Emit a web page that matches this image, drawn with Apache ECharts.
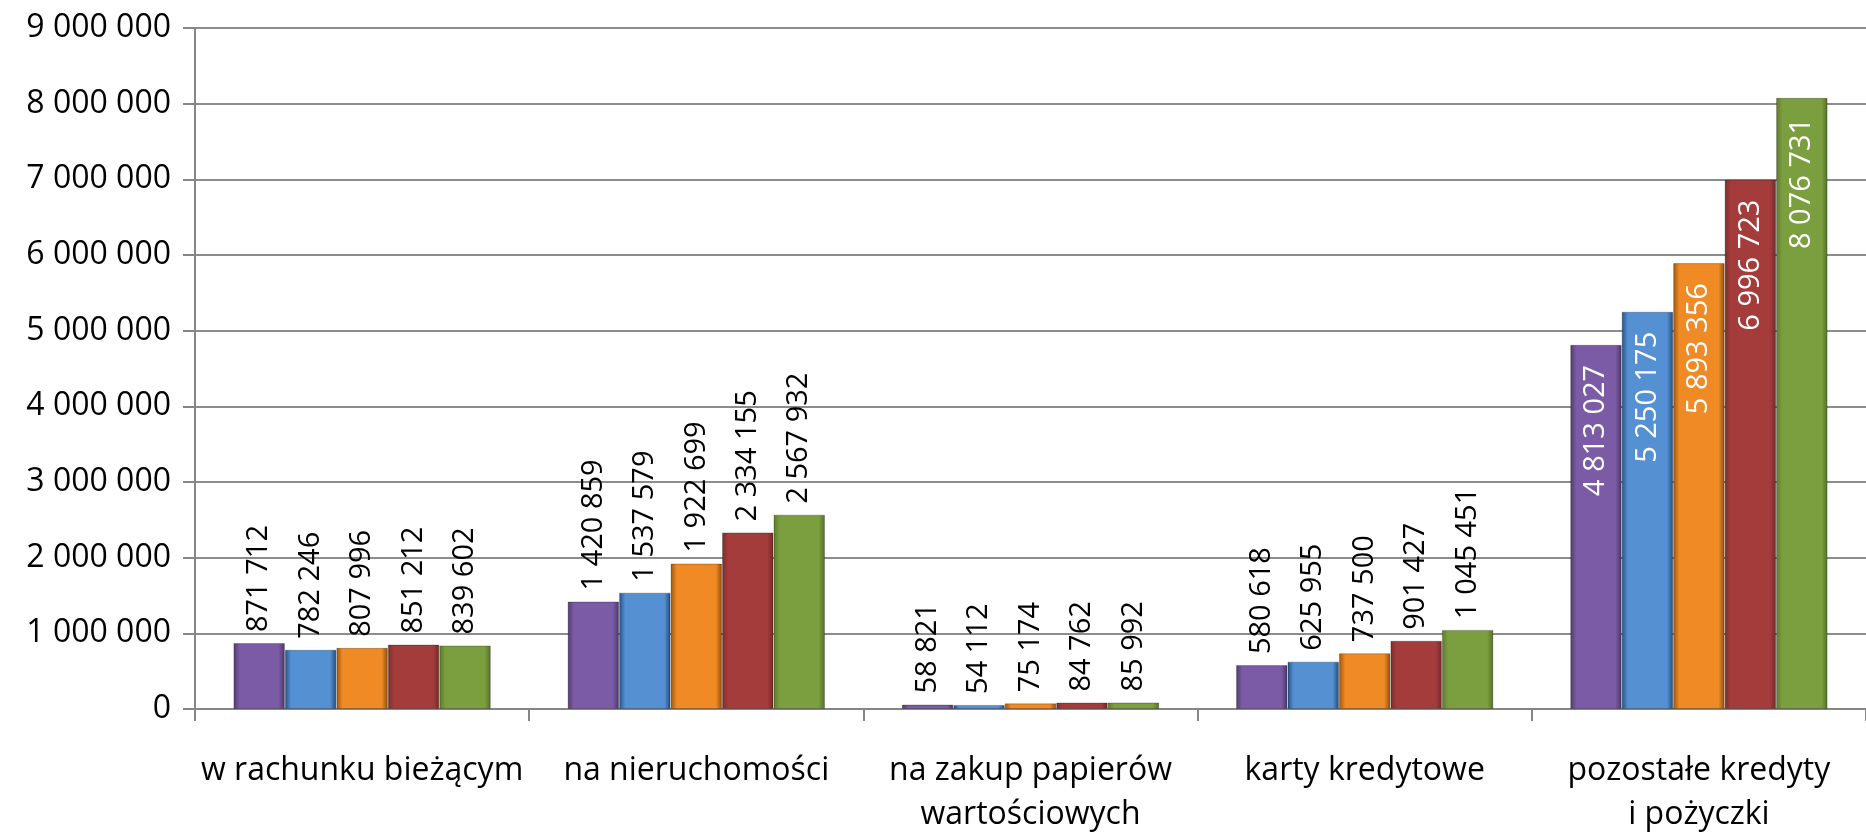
<!DOCTYPE html>
<html>
<head>
<meta charset="utf-8">
<script src="https://cdn.jsdelivr.net/npm/echarts@6/dist/echarts.min.js"></script>
<style>
  html, body { margin: 0; padding: 0; background: #fff; }
  #chart { width: 1866px; height: 832px; }
</style>
</head>
<body>
<div id="chart"></div>
<script>
// kategorie kredytów
const categories = [
  "w rachunku bieżącym",
  "na nieruchomości",
  "na zakup papierów\nwartościowych",
  "karty kredytowe",
  "pozostałe kredyty\ni pożyczki"
];
// pięć serii (kolejne okresy)
const seria1 = [871712, 1420859, 58821, 580618, 4813027];
const seria2 = [782246, 1537579, 54112, 625955, 5250175];
const seria3 = [807996, 1922699, 75174, 737500, 5893356];
const seria4 = [851212, 2334155, 84762, 901427, 6996723];
const seria5 = [839602, 2567932, 85992, 1045451, 8076731];
const yTicks = [0, 1000000, 2000000, 3000000, 4000000, 5000000, 6000000, 7000000, 8000000, 9000000];

const colors = ["#7b5aa6", "#5590d3", "#ef8a24", "#a53c3c", "#7b9e3e"];
const fmt = v => String(v).replace(/\B(?=(\d{3})+(?!\d))/g, " ");

function grad(c) {
  return new echarts.graphic.LinearGradient(0, 0, 1, 0, [
    { offset: 0, color: echarts.color.modifyHSL(c, null, null, 0.33) },
    { offset: 0.12, color: c },
    { offset: 0.88, color: c },
    { offset: 1, color: echarts.color.modifyHSL(c, null, null, 0.3) }
  ]);
}

function mkSeries(name, data, idx) {
  return {
    name: name,
    type: "bar",
    barGap: "0%",
    barCategoryGap: "23%",
    itemStyle: { color: grad(colors[idx]), borderColor: "rgba(0,0,0,0.25)", borderWidth: 1 },
    data: data.map((v, i) => {
      // ostatnia grupa: etykiety wewnątrz słupka, białe
      if (i === 4) {
        return { value: v, label: { position: "insideTop", rotate: 90, align: "right", verticalAlign: "middle", color: "#fff", distance: 20 } };
      }
      return v;
    }),
    label: {
      show: true,
      position: "top",
      rotate: 90,
      align: "left",
      verticalAlign: "middle",
      distance: 11,
      color: "#000",
      fontSize: 29,
      fontFamily: "Open Sans",
      formatter: p => fmt(p.value)
    }
  };
}

const chart = echarts.init(document.getElementById("chart"));
chart.setOption({
  animation: false,
  grid: { left: 195, right: 0, top: 28, bottom: 123, containLabel: false, outerBoundsMode: "none" },
  xAxis: {
    type: "category",
    data: categories,
    axisLine: { lineStyle: { color: "#868686", width: 2 } },
    axisTick: { show: true, length: 12, lineStyle: { color: "#868686", width: 2 } },
    axisLabel: { color: "#000", fontSize: 32, fontFamily: "Open Sans", margin: 40, lineHeight: 44, interval: 0 }
  },
  yAxis: {
    type: "value",
    min: yTicks[0],
    max: yTicks[yTicks.length - 1],
    interval: 1000000,
    axisLine: { show: true, lineStyle: { color: "#868686", width: 2 } },
    axisTick: { show: true, length: 12, lineStyle: { color: "#868686", width: 2 } },
    splitLine: { lineStyle: { color: "#8c8c8c", width: 2 } },
    axisLabel: { color: "#000", fontSize: 32, fontFamily: "Open Sans", margin: 24, formatter: v => fmt(v) }
  },
  series: [
    mkSeries("seria1", seria1, 0),
    mkSeries("seria2", seria2, 1),
    mkSeries("seria3", seria3, 2),
    mkSeries("seria4", seria4, 3),
    mkSeries("seria5", seria5, 4)
  ]
});
</script>
</body>
</html>
